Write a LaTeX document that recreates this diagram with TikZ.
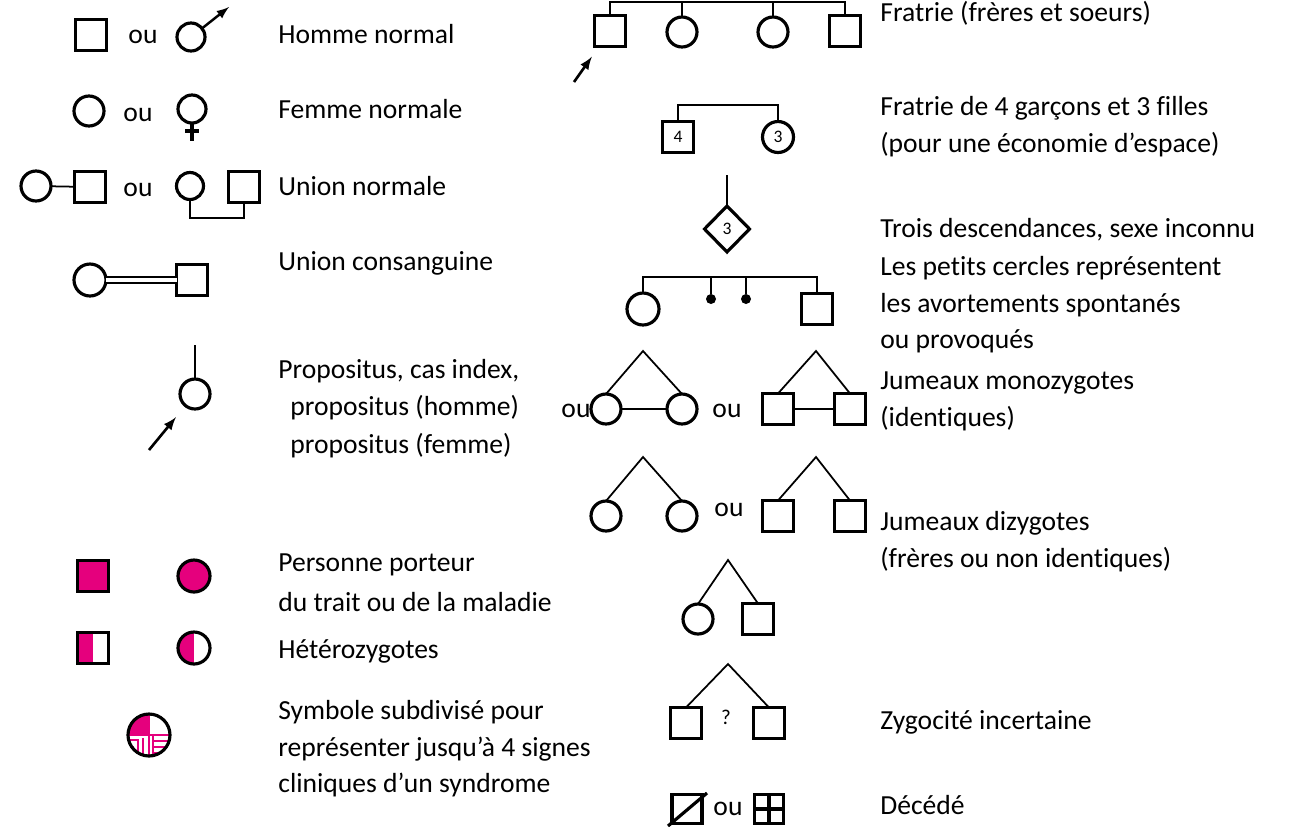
\documentclass[tikz,border=0pt]{standalone}
\usepackage{fontspec}
\setmainfont{Carlito}[Ligatures=NoCommon]
\usetikzlibrary{shapes.geometric}
\definecolor{traitpink}{HTML}{E5007D}
\tikzset{
  sym/.style={draw, line width=1.8pt, inner sep=0pt, outer sep=0pt},
  male/.style={sym, rectangle, minimum size=0.62cm},
  female/.style={sym, circle, minimum size=0.6cm},
  unknown/.style={sym, diamond, minimum width=0.9cm, minimum height=0.92cm},
  abort/.style={circle, fill=black, inner sep=0pt, minimum size=0.2cm},
  link/.style={line width=1pt},
  pointer/.style={line width=1.5pt, -latex},
  legend/.style={anchor=west, inner sep=0pt, font=\fontsize{15.7}{18}\selectfont},
  ou/.style={inner sep=0pt, yshift=-0.05cm, font=\fontsize{15.7}{18}\selectfont},
  numtext/.style={font=\fontsize{10}{11}\selectfont},
  halffill/.style={path picture={\fill[traitpink] (path picture bounding box.north west) rectangle (path picture bounding box.south);}},
  crossed/.style={path picture={\draw[line width=1.8pt] (path picture bounding box.north) -- (path picture bounding box.south) (path picture bounding box.west) -- (path picture bounding box.east);}}
}
\begin{document}
\begin{tikzpicture}[x=0.02cm, y=-0.02cm]
  \useasboundingbox (0,0) rectangle (1291,826);

  % Left column: symbols
  \node[male] (hom) at (91,35) {};
  \node[ou] (ou1) at (143,34) {ou};
  \node[female, minimum size=0.56cm] (mars) at (191,37) {};
  \coordinate (marstip) at (229,7);
  \draw[pointer, line width=1.4pt] (mars.38) -- (marstip);

  \node[female] (fem) at (89,111) {};
  \node[ou] (ou2) at (138,112) {ou};
  \node[female, minimum size=0.56cm] (venus) at (192,109) {};
  \coordinate (venusfoot) at (192,141);
  \coordinate (venusbar) at (192,131);
  \draw[line width=1.8pt] (venus.south) -- (venusfoot);
  \draw[line width=1.8pt] ([xshift=-0.14cm]venusbar) -- ([xshift=0.14cm]venusbar);

  \node[female] (uf1) at (36,186) {};
  \node[male] (um1) at (90,187) {};
  \draw[link] (uf1) -- (um1);
  \node[ou] (ou3) at (138,187) {ou};
  \node[female, minimum size=0.54cm] (uf2) at (190,186) {};
  \node[male] (um2) at (244,187) {};
  \coordinate (ubar) at (0,218);
  \draw[link] (uf2.south) -- (uf2.south |- ubar) -| (um2.south);

  \node[female, minimum size=0.64cm] (cf) at (90,280) {};
  \node[male] (cm) at (192,280) {};
  \draw[line width=0.7pt, double, double distance=2.6pt] (cf) -- (cm);

  \node[female] (prop) at (195,394) {};
  \coordinate (proptop) at (195,345);
  \coordinate (propfoot) at (149,450);
  \draw[link] (prop.north) -- (proptop);
  \draw[pointer, shorten >=0.3cm] (propfoot) -- (prop);

  \node[male, fill=traitpink] (aff1) at (93,576) {};
  \node[female, fill=traitpink, minimum size=0.64cm] (aff2) at (194,576) {};
  \node[male, halffill] (het1) at (93,648) {};
  \node[female, halffill, minimum size=0.64cm] (het2) at (194,648) {};

  % subdivided symbol
  \begin{scope}
    \clip (149,735) circle (0.42cm);
    \fill[traitpink] (127,713) rectangle (149,735);
    \draw[traitpink, line width=1pt] (149,713) -- (149,757) (127,735) -- (171,735);
    \draw[traitpink, line width=1pt] (153,741) -- (171,741) (153,747) -- (171,747) (153,753) -- (171,753);
    \draw[traitpink, line width=1pt] (153,735) -- (153,757);
    \draw[traitpink, line width=1.2pt] (130,740) -- (138,740) -- (138,757) (143,738) -- (143,757) (128,747) -- (134,747);
  \end{scope}
  \node[female, minimum size=0.84cm] (sub) at (149,735) {};

  % Left column: texts
  \node[legend] (thom) at (278,34) {Homme normal};
  \node[legend] (tfem) at (278,109) {Femme normale};
  \node[legend] (tuni) at (278,186) {Union normale};
  \node[legend] (tcon) at (278,263) {Union consanguine};
  \node[legend] (tpro1) at (278,371) {Propositus, cas index,};
  \node[legend] (tpro2) at (290,408) {propositus (homme)};
  \node[legend] (tpro3) at (290,446) {propositus (femme)};
  \node[legend] (taff1) at (278,565) {Personne porteur};
  \node[legend] (taff2) at (278,602) {du trait ou de la maladie};
  \node[legend] (thet) at (278,651) {Hétérozygotes};
  \node[legend] (tsub1) at (278,712) {Symbole subdivisé pour};
  \node[legend] (tsub2) at (278,749) {représenter jusqu’à 4 signes};
  \node[legend] (tsub3) at (278,785) {cliniques d’un syndrome};

  % Fratrie
  \node[male] (sib1) at (610,31) {};
  \node[female] (sib2) at (682,32) {};
  \node[female] (sib3) at (773,32) {};
  \node[male] (sib4) at (845,31) {};
  \coordinate (sibbar) at (0,2);
  \coordinate (sibfoot) at (574,82);
  \draw[link] (sib1.north) -- (sib1.north |- sibbar) -- (sib4.north |- sibbar) -- (sib4.north);
  \draw[link] (sib2.north) -- (sib2.north |- sibbar);
  \draw[link] (sib3.north) -- (sib3.north |- sibbar);
  \draw[pointer, shorten >=0.25cm] (sibfoot) -- (sib1);

  \node[male, numtext] (boys) at (678,137) {4};
  \node[female, numtext, minimum size=0.62cm] (girls) at (778,137) {3};
  \coordinate (grpbar) at (0,105);
  \draw[link] (boys.north) -- (boys.north |- grpbar) -| (girls.north);

  \node[unknown, numtext] (unk) at (727,229) {3};
  \coordinate (unktop) at (727,175);
  \draw[link] (unk.north) -- (unktop);

  \node[female, minimum size=0.64cm] (ab1) at (643,309) {};
  \node[abort] (ab2) at (711,299) {};
  \node[abort] (ab3) at (746,299) {};
  \node[male] (ab4) at (817,309) {};
  \coordinate (abbar) at (0,277);
  \draw[link] (ab1.north) -- (ab1.north |- abbar) -- (ab4.north |- abbar) -- (ab4.north);
  \draw[link] (ab2.north) -- (ab2.north |- abbar);
  \draw[link] (ab3.north) -- (ab3.north |- abbar);

  % Twins
  \node[ou] (ou4) at (576,408) {ou};
  \node[female] (mz1) at (606,409) {};
  \node[female] (mz2) at (682,409) {};
  \coordinate (mzapex1) at (643,351);
  \draw[link] (mz1.north) -- (mzapex1) -- (mz2.north);
  \draw[link] (mz1) -- (mz2);
  \node[ou] (ou5) at (727,408) {ou};
  \node[male] (mz3) at (778,409) {};
  \node[male] (mz4) at (850,409) {};
  \coordinate (mzapex2) at (816,351);
  \draw[link] (mz3.north) -- (mzapex2) -- (mz4.north);
  \draw[link] (mz3) -- (mz4);

  \node[female] (dz1) at (606,516) {};
  \node[female] (dz2) at (682,516) {};
  \coordinate (dzapex1) at (643,457);
  \draw[link] (dz1.north) -- (dzapex1) -- (dz2.north);
  \node[ou] (ou6) at (729,507) {ou};
  \node[male] (dz3) at (778,516) {};
  \node[male] (dz4) at (850,516) {};
  \coordinate (dzapex2) at (816,457);
  \draw[link] (dz3.north) -- (dzapex2) -- (dz4.north);

  \node[female] (ut1) at (698,619) {};
  \node[male] (ut2) at (758,619) {};
  \coordinate (utapex) at (728,560);
  \draw[link] (ut1.north) -- (utapex) -- (ut2.north);

  \node[male] (uz1) at (686,723) {};
  \node[male] (uz2) at (769,723) {};
  \node[font=\fontsize{12}{13}\selectfont] (uzq) at (726,717) {?};
  \coordinate (uzapex) at (728,664);
  \draw[link] (uz1.north) -- (uzapex) -- (uz2.north);

  \node[male, minimum width=0.6cm, minimum height=0.58cm] (dec1) at (687,809) {};
  \draw[line width=1.8pt] ([shift={(-0.08cm,-0.05cm)}]dec1.south west) -- ([shift={(0.1cm,0.03cm)}]dec1.north east);
  \node[ou] (ou7) at (728,806) {ou};
  \node[male, crossed, minimum width=0.58cm, minimum height=0.58cm] (dec2) at (769,809) {};

  % Right column: texts
  \node[legend] (tsib) at (880,13) {Fratrie (frères et soeurs)};
  \node[legend] (tgrp1) at (880,108) {Fratrie de 4 garçons et 3 filles};
  \node[legend] (tgrp2) at (880,145) {(pour une économie d’espace)};
  \node[legend] (tunk) at (880,230) {Trois descendances, sexe inconnu};
  \node[legend] (tab1) at (880,268) {Les petits cercles représentent};
  \node[legend] (tab2) at (880,305) {les avortements spontanés};
  \node[legend] (tab3) at (880,341) {ou provoqués};
  \node[legend] (tmz1) at (880,383) {Jumeaux monozygotes};
  \node[legend] (tmz2) at (880,419) {(identiques)};
  \node[legend] (tdz1) at (880,523) {Jumeaux dizygotes};
  \node[legend] (tdz2) at (880,560) {(frères ou non identiques)};
  \node[legend] (tuz) at (880,722) {Zygocité incertaine};
  \node[legend] (tdec) at (880,805) {Décédé};
\end{tikzpicture}
\end{document}
